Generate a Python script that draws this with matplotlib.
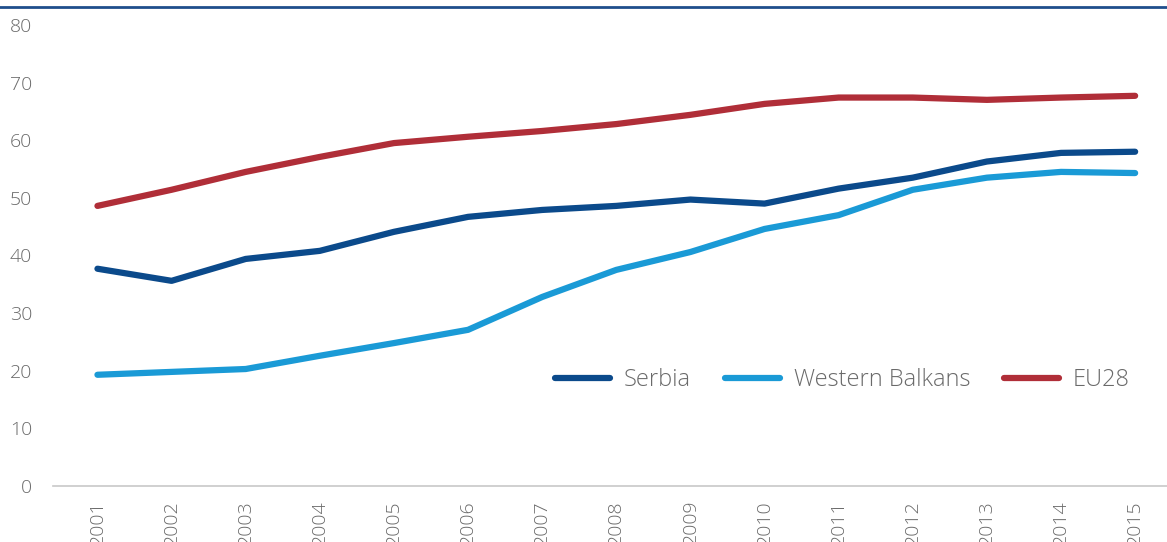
import numpy as np
import matplotlib.pyplot as plt

plt.rcParams['font.family'] = ['Open Sans', 'DejaVu Sans']
plt.rcParams['font.weight'] = 'light'

years = [str(y) for y in range(2001, 2016)]
serbia = [37.7, 35.6, 39.4, 40.8, 44.1, 46.7, 47.9, 48.6, 49.7, 49.0, 51.6, 53.5, 56.3, 57.8, 58.0]
western_balkans = [19.3, 19.8, 20.3, 22.6, 24.8, 27.1, 32.8, 37.5, 40.6, 44.6, 47.0, 51.4, 53.5, 54.5, 54.3]
eu28 = [48.6, 51.4, 54.5, 57.1, 59.5, 60.6, 61.6, 62.8, 64.4, 66.3, 67.4, 67.4, 67.0, 67.4, 67.7]

c_serbia = '#0b4a8b'
c_wb = '#1a9ad6'
c_eu = '#b02e38'
grey = '#6a6a6a'

fig = plt.figure(figsize=(11.67, 5.42), dpi=100)
ax = fig.add_axes([0.0454, 0.1033, 0.9546, 0.8507])

x = np.arange(len(years))
ax.plot(x, serbia, color=c_serbia, lw=4.5, label='Serbia', solid_capstyle='round')
ax.plot(x, western_balkans, color=c_wb, lw=4.5, label='Western Balkans', solid_capstyle='round')
ax.plot(x, eu28, color=c_eu, lw=4.5, label='EU28', solid_capstyle='round')

ax.set_ylim(0, 80)
ax.set_yticks(range(0, 81, 10))
ax.set_xlim(-0.6, 14.43)
ax.set_xticks(x)
ax.set_xticklabels(years, rotation=90)

for s in ['top', 'right', 'left']:
    ax.spines[s].set_visible(False)
ax.spines['bottom'].set_color('#c8c8c8')
ax.spines['bottom'].set_linewidth(1.2)
ax.tick_params(axis='both', length=0, colors=grey, labelsize=14)
ax.tick_params(axis='y', pad=15)
ax.tick_params(axis='x', pad=10)

ax.legend(loc='lower left', bbox_to_anchor=(0.432, 0.157), ncol=3, frameon=False,
          fontsize=17, labelcolor=grey, handlelength=2.3, columnspacing=1.45,
          handletextpad=0.6)

# rule under the heading
fig.add_artist(plt.Line2D([0, 1], [1 - 7 / 542, 1 - 7 / 542], color='#1f4e8c', lw=2))

fig.savefig('out.png', dpi=100)
